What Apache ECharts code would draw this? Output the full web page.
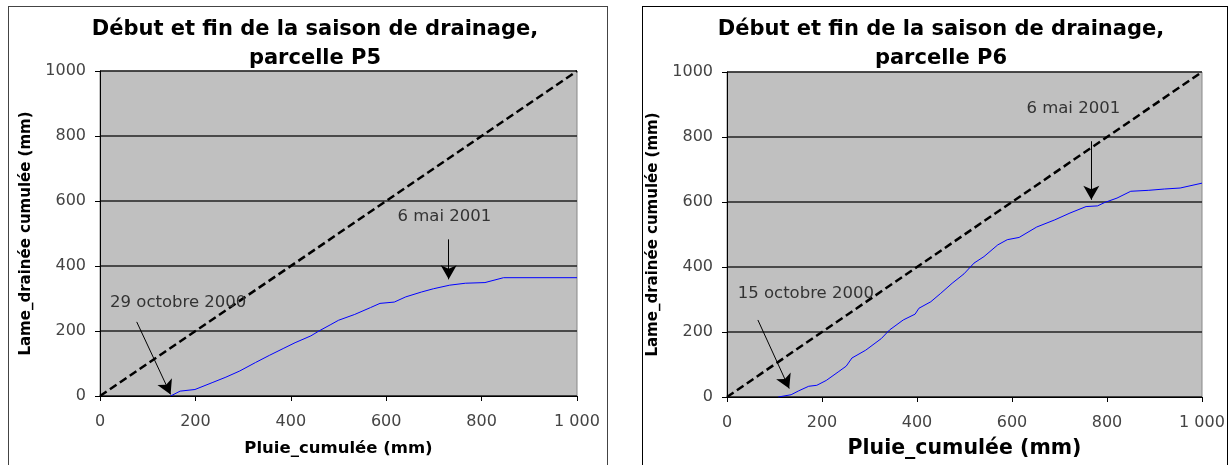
<!DOCTYPE html>
<html><head><meta charset="utf-8">
<script src="https://cdn.jsdelivr.net/npm/echarts@6/dist/echarts.min.js"></script>
<style>
html,body{margin:0;padding:0;background:#fff;}
#c{position:absolute;left:0;top:0;width:1231px;height:465px;}
.panel{position:absolute;box-sizing:border-box;}
</style></head><body>
<div class="panel" style="left:8px;top:6px;width:600px;height:470px;border:1px solid #444;"></div>
<div class="panel" style="left:642px;top:6px;width:586px;height:470px;border:1px solid #000;"></div>
<div id="c"></div>
<script>
// P5
var p5X = [148,168,199,235,264,293,326,355,384,409,442,459,484,500,534,567,587,617,641,674,699,733,766,807,846,1000];
var p5Y = [0,15,20,41,58,77,103,125,146,164,185,200,220,233,251,272,285,289,305,320,330,341,347,349,364,364];
// P6
var p6X = [108,135,151,172,189,209,234,251,263,292,325,342,371,396,404,429,450,474,499,520,541,570,590,615,652,690,722,756,780,796,821,850,888,921,954,1000];
var p6Y = [0,7,19,33,36,51,77,95,120,144,180,206,237,255,273,293,319,350,379,412,432,468,484,491,523,545,566,586,588,599,612,633,636,640,643,658];
// 1:1 reference line
var refX = [0,1000];
var refY = [0,1000];
var ticks = [0,200,400,600,800,1000];
var titles = ["Début et fin de la saison de drainage,\nparcelle P5","Début et fin de la saison de drainage,\nparcelle P6"];
var xName = "Pluie_cumulée (mm)";
var yName = "Lame_drainée cumulée (mm)";
// annotations (data coordinates)
var p5Arrows = [[[77,228],[148,5]],[[731,482],[731,359]]];
var p5Labels = [["29 octobre 2000",164,287],["6 mai 2001",722,552]];
var p6Arrows = [[[65,237],[131,26]],[[767,787],[767,607]]];
var p6Labels = [["15 octobre 2000",166,319],["6 mai 2001",729,887]];

function zip(a,b){return a.map(function(v,i){return [v,b[i]];});}
var BFONT = "DejaVu Sans, Liberation Sans, sans-serif";
function xLab(v){ return v>=1000 ? (Math.floor(v/1000)+" "+String(v%1000).padStart(3,"0")) : String(v); }
function yLab(v){ return String(v); }

function xAxis(gi, nameSize, gap){
  return {type:'value', gridIndex:gi, min:0, max:1000, interval:200,
    name:xName, nameLocation:'middle', nameGap:gap,
    nameTextStyle:{fontFamily:BFONT, fontWeight:'bold', fontSize:nameSize, color:'#000'},
    axisLine:{show:true, onZero:false, lineStyle:{color:'#000', width:1}},
    axisTick:{show:true, length:5, lineStyle:{color:'#000'}},
    axisLabel:{formatter:xLab, fontFamily:BFONT, fontSize:16, color:'#444', margin:18},
    splitLine:{show:false}};
}
function yAxis(gi){
  return {type:'value', gridIndex:gi, min:0, max:1000, interval:200,
    name:yName, nameLocation:'middle', nameGap:66, nameRotate:90,
    nameTextStyle:{fontFamily:BFONT, fontWeight:'bold', fontSize:15, color:'#000'},
    axisLine:{show:true, lineStyle:{color:'#000', width:1}},
    axisTick:{show:true, length:5, lineStyle:{color:'#000'}},
    axisLabel:{formatter:yLab, fontFamily:BFONT, fontSize:16, color:'#444', margin:14},
    splitLine:{show:true, lineStyle:{color:'#222', width:1.5}}};
}
function annot(arrows, labels){
  return {
    markLine:{silent:true, symbol:['none','arrow'], symbolSize:[12,14],
      lineStyle:{color:'#000', width:1, type:'solid'}, label:{show:false},
      data: arrows.map(function(a){return [{coord:a[0]},{coord:a[1]}];})},
    markPoint:{silent:true, symbol:'circle', symbolSize:0,
      label:{show:true, position:'inside', fontFamily:BFONT, fontSize:16.5, color:'#333',
        formatter:function(p){return p.name;}},
      data: labels.map(function(l){return {name:l[0], coord:[l[1],l[2]]};})}
  };
}
function blue(gi, x, y, arrows, labels){
  var s = {type:'line', xAxisIndex:gi, yAxisIndex:gi, data:zip(x,y), showSymbol:false,
    lineStyle:{color:'#0000ff', width:1}, z:3, animation:false};
  var a = annot(arrows, labels);
  s.markLine = a.markLine; s.markPoint = a.markPoint;
  return s;
}
function dash(gi){
  return {type:'line', xAxisIndex:gi, yAxisIndex:gi, data:zip(refX,refY), showSymbol:false,
    lineStyle:{color:'#000', width:2.5, type:[8,4]}, z:2, animation:false};
}
var chart = echarts.init(document.getElementById('c'), null, {renderer:'canvas'});
chart.setOption({
  animation:false,
  backgroundColor:'transparent',
  title:[
    {text:titles[0], left:310, top:10, textAlign:'center',
     textStyle:{fontFamily:BFONT, fontWeight:'bold', fontSize:21, lineHeight:29, color:'#000'}},
    {text:titles[1], left:936, top:10, textAlign:'center',
     textStyle:{fontFamily:BFONT, fontWeight:'bold', fontSize:21, lineHeight:29, color:'#000'}}
  ],
  grid:[
    {left:100, top:71, width:477, height:325, show:true, backgroundColor:'#c0c0c0', borderColor:'#888', borderWidth:1, outerBoundsMode:'none', containLabel:false},
    {left:727, top:72, width:475, height:325, show:true, backgroundColor:'#c0c0c0', borderColor:'#888', borderWidth:1, outerBoundsMode:'none', containLabel:false}
  ],
  xAxis:[xAxis(0,16.5,44), xAxis(1,20.5,41)],
  yAxis:[yAxis(0), yAxis(1)],
  series:[dash(0), blue(0,p5X,p5Y,p5Arrows,p5Labels), dash(1), blue(1,p6X,p6Y,p6Arrows,p6Labels)]
});
</script></body></html>
